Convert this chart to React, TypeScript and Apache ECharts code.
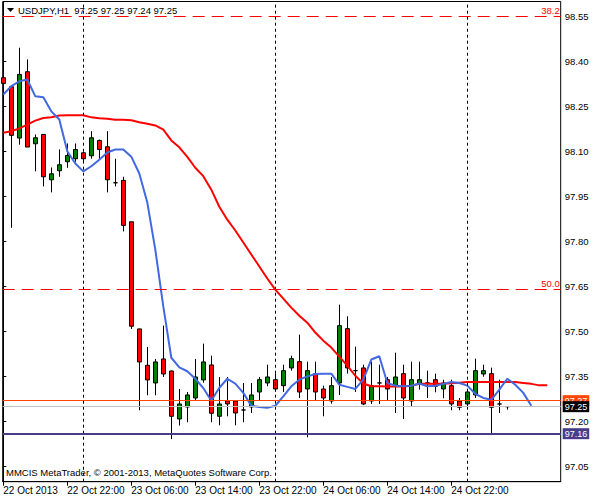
import React, { useEffect, useRef } from "react";
import * as echarts from "echarts";

// ---- data (USDJPY, H1), bar index 0 = 22 Oct 2013 14:00 ----
const opens = [
  98.346, 98.316, 98.145, 98.366, 98.126, 98.157, 98.006, 98.036, 98.066, 98.076,
  98.096, 98.086, 98.137, 98.116, 97.996, 98.004, 97.866, 97.509, 97.388, 97.329,
  97.409, 97.369, 97.209, 97.249, 97.279, 97.339, 97.389, 97.218, 97.269, 97.269,
  97.239, 97.249, 97.299, 97.329, 97.34, 97.32, 97.379, 97.4, 97.309, 97.36,
  97.309, 97.269, 97.329, 97.51, 97.37, 97.379, 97.269, 97.329, 97.34, 97.32,
  97.36, 97.269, 97.327, 97.329, 97.34, 97.309, 97.32, 97.269, 97.259, 97.289,
  97.359, 97.36, 97.259, 97.25,
];
const closes = [
  98.327, 98.154, 98.357, 98.115, 98.146, 98.016, 98.026, 98.056, 98.087, 98.107,
  98.076, 98.146, 98.107, 98.006, 97.996, 97.854, 97.518, 97.399, 97.339, 97.399,
  97.359, 97.218, 97.259, 97.289, 97.349, 97.399, 97.228, 97.259, 97.259, 97.229,
  97.239, 97.289, 97.34, 97.349, 97.309, 97.37, 97.41, 97.299, 97.37, 97.299,
  97.279, 97.32, 97.52, 97.379, 97.37, 97.259, 97.32, 97.329, 97.309, 97.349,
  97.279, 97.34, 97.34, 97.329, 97.318, 97.329, 97.259, 97.248, 97.299, 97.37,
  97.37, 97.248, 97.259, 97.25,
];
const lows = [
  98.284, 97.846, 98.123, 98.115, 98.034, 97.984, 97.964, 98.016, 98.046, 98.066,
  98.066, 98.076, 98.076, 97.964, 97.984, 97.834, 97.509, 97.238, 97.288, 97.288,
  97.349, 97.142, 97.187, 97.198, 97.27, 97.33, 97.198, 97.188, 97.218, 97.188,
  97.198, 97.229, 97.269, 97.318, 97.3, 97.299, 97.37, 97.279, 97.148, 97.269,
  97.218, 97.26, 97.289, 97.36, 97.299, 97.255, 97.259, 97.259, 97.269, 97.229,
  97.209, 97.249, 97.307, 97.279, 97.298, 97.278, 97.238, 97.238, 97.248, 97.279,
  97.35, 97.157, 97.229, 97.24,
];
const highs = [
  98.35, 98.32, 98.446, 98.407, 98.157, 98.157, 98.047, 98.107, 98.127, 98.127,
  98.1, 98.168, 98.14, 98.168, 98.076, 98.016, 97.866, 97.51, 97.449, 97.409,
  97.52, 97.37, 97.309, 97.299, 97.409, 97.46, 97.42, 97.349, 97.349, 97.27,
  97.329, 97.329, 97.349, 97.39, 97.36, 97.39, 97.42, 97.49, 97.4, 97.4,
  97.32, 97.349, 97.59, 97.551, 97.45, 97.39, 97.4, 97.39, 97.349, 97.43,
  97.39, 97.4, 97.4, 97.37, 97.36, 97.34, 97.34, 97.279, 97.309, 97.41,
  97.39, 97.38, 97.34, 97.25,
];
// slow moving average (red), drawn shifted 5 bars to the right
const redMA = [
  98.163, 98.168, 98.177, 98.19, 98.203, 98.212, 98.214, 98.22, 98.221, 98.221,
  98.221, 98.214, 98.211, 98.209, 98.206, 98.206, 98.204, 98.198, 98.193, 98.187,
  98.173, 98.137, 98.114, 98.082, 98.046, 98.018, 97.973, 97.916, 97.873, 97.837,
  97.797, 97.757, 97.717, 97.677, 97.64, 97.61, 97.58, 97.553, 97.53, 97.497,
  97.47, 97.447, 97.417, 97.387, 97.353, 97.327, 97.318, 97.318, 97.317, 97.317,
  97.317, 97.32, 97.326, 97.326, 97.326, 97.326, 97.328, 97.33, 97.332, 97.332,
  97.332, 97.332, 97.332, 97.332, 97.332, 97.329, 97.326, 97.321, 97.321,
];
// fast moving average (blue), drawn shifted 3 bars to the right
const blueMA = [
  98.29, 98.318, 98.334, 98.34, 98.284, 98.281, 98.234, 98.207, 98.101, 98.06,
  98.034, 98.051, 98.073, 98.097, 98.107, 98.107, 98.083, 98.027, 97.93, 97.773,
  97.584, 97.413, 97.381, 97.368, 97.343, 97.312, 97.27, 97.313, 97.343, 97.327,
  97.296, 97.253, 97.249, 97.246, 97.253, 97.284, 97.318, 97.34, 97.351, 97.359,
  97.36, 97.36, 97.323, 97.316, 97.309, 97.34, 97.407, 97.418, 97.329, 97.32,
  97.318, 97.32, 97.327, 97.318, 97.32, 97.326, 97.332, 97.329, 97.32, 97.293,
  97.279, 97.273, 97.307, 97.343, 97.323, 97.296, 97.253,
];
const timeTickLabels = [
  "22 Oct 2013", "22 Oct 22:00", "23 Oct 06:00", "23 Oct 14:00",
  "23 Oct 22:00", "24 Oct 06:00", "24 Oct 14:00", "24 Oct 22:00",
];
const barsPerTimeTick = 8;
const priceTickLabels = [97.05, 97.2, 97.35, 97.5, 97.65, 97.8, 97.95, 98.1, 98.25, 98.4, 98.55];
const daySeparatorBars = [10, 34, 58];
const fiboLevels = [
  { name: "38.2", value: 98.551 },
  { name: "50.0", value: 97.635 },
];
const askPrice = 97.27;
const bidPrice = 97.25;
const supportLevel = 97.16;
const titleText = "USDJPY,H1  97.25 97.25 97.24 97.25";
const copyrightText = "MMCIS MetaTrader, \u00A9 2001-2013, MetaQuotes Software Corp.";

const FONT = "Liberation Sans";

export default function App() {
  const ref = useRef<HTMLDivElement>(null);

  useEffect(() => {
    if (!ref.current) return;
    const chart = echarts.init(ref.current, null, { renderer: "svg" });

    const candleData = opens.map((o, i) => [i, o, closes[i], lows[i], highs[i]]);
    const xTicks = timeTickLabels.map((_, i) => i * barsPerTimeTick);

    const priceBox = (text: string, bg: string) => ({
      show: true,
      position: "end",
      formatter: text,
      distance: 2,
      color: "#fff",
      backgroundColor: bg,
      padding: [1, 2, 0, 2],
      lineHeight: 10,
      fontSize: 9,
      fontFamily: FONT,
    });

    chart.setOption({
      animation: false,
      backgroundColor: "#fff",
      textStyle: { fontFamily: FONT },
      grid: {
        left: 2.7,
        right: 39.3,
        top: 1.5,
        bottom: 18.3,
        show: true,
        borderColor: "#000",
        borderWidth: 1,
        backgroundColor: "#fff",
      },
      xAxis: {
        type: "value",
        min: -0.075,
        max: 69.675,
        axisLine: { show: true, onZero: false, lineStyle: { color: "#000", width: 1 } },
        axisTick: { show: true, customValues: xTicks, length: 4, lineStyle: { color: "#000" } },
        axisLabel: {
          customValues: xTicks,
          formatter: (v: number) => timeTickLabels[Math.round(v / barsPerTimeTick)] ?? "",
          align: "left",
          margin: 4,
          color: "#000",
          fontSize: 10,
          fontFamily: FONT,
        },
        splitLine: { show: false },
      },
      yAxis: {
        type: "value",
        position: "right",
        min: 97.0,
        max: 98.6,
        axisLine: { show: true, lineStyle: { color: "#000", width: 1 } },
        axisTick: { show: true, customValues: priceTickLabels, length: 3, lineStyle: { color: "#000" } },
        axisLabel: {
          customValues: priceTickLabels,
          formatter: (v: number) => v.toFixed(2),
          margin: 4,
          color: "#000",
          fontSize: 9.5,
          fontFamily: FONT,
        },
        splitLine: { show: false },
      },
      graphic: [
        {
          type: "polygon",
          shape: { points: [[7, 8], [14, 8], [10.5, 12]] },
          style: { fill: "#000" },
          z: 100,
        },
        {
          type: "text",
          left: 18,
          top: 5,
          style: { text: titleText, fill: "#000", fontSize: 9.5, fontFamily: FONT },
          z: 100,
        },
        {
          type: "text",
          left: 6,
          top: 467,
          style: { text: copyrightText, fill: "#000", fontSize: 9.5, fontFamily: FONT },
          z: 100,
        },
      ],
      series: [
        {
          type: "line",
          data: [],
          silent: true,
          z: 1,
          markLine: {
            silent: true,
            symbol: "none",
            animation: false,
            data: [
              ...daySeparatorBars.map((b) => ({
                xAxis: b,
                lineStyle: { color: "#000", type: [3, 3], width: 1 },
                label: { show: false },
              })),
              ...fiboLevels.map((f) => ({
                yAxis: f.value,
                lineStyle: { color: "#FF0000", type: [12, 7], width: 1 },
                label: {
                  show: true,
                  position: "insideEndTop",
                  formatter: f.name,
                  color: "#FF0000",
                  fontSize: 9.5,
                  fontFamily: FONT,
                  distance: 1,
                },
              })),
              {
                yAxis: askPrice,
                lineStyle: { color: "#FF4500", type: "solid", width: 1 },
                label: priceBox(askPrice.toFixed(2), "#FF4500"),
              },
              {
                yAxis: bidPrice,
                lineStyle: { color: "#C0C0C0", type: "solid", width: 1 },
                label: priceBox(bidPrice.toFixed(2), "#000"),
              },
              {
                yAxis: supportLevel,
                lineStyle: { color: "#483D8B", type: "solid", width: 2 },
                label: priceBox(supportLevel.toFixed(2), "#483D8B"),
              },
            ],
          },
        },
        {
          type: "candlestick",
          data: candleData,
          dimensions: ["x", "open", "close", "lowest", "highest"],
          encode: { x: 0, y: [1, 2, 3, 4] },
          barWidth: 5,
          z: 2,
          itemStyle: {
            color: "#008000",
            color0: "#FF0000",
            borderColor: "#000",
            borderColor0: "#000",
            borderColorDoji: "#000",
            borderWidth: 1,
          },
        },
        {
          type: "line",
          data: redMA.map((v, i) => [i, v]),
          symbol: "none",
          z: 3,
          lineStyle: { color: "#FF0000", width: 2 },
        },
        {
          type: "line",
          data: blueMA.map((v, i) => [i, v]),
          symbol: "none",
          z: 4,
          lineStyle: { color: "#4169E1", width: 2 },
        },
      ],
    });

    return () => chart.dispose();
  }, []);

  return (
    <div
      ref={ref}
      style={{ position: "fixed", left: 0, top: 0, width: 600, height: 500, background: "#fff" }}
    />
  );
}
